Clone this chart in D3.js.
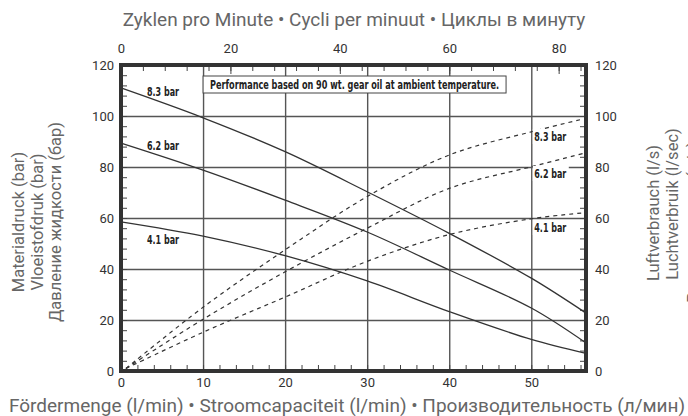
<!DOCTYPE html>
<html lang="de">
<head>
    <meta charset="utf-8">
    <title>Pump performance curve</title>
    <script src="https://d3js.org/d3.v7.min.js"></script>
    <style>
        body { margin: 0; background: #fff; }
        svg { display: block; }
        .tick-label { font-family: Roboto, "Liberation Sans", sans-serif; font-size: 13px; fill: #333; }
        .title { font-family: Roboto, "Liberation Sans", sans-serif; font-size: 16.5px; fill: #666; }
        .title.wide { font-size: 19px; }
        .curve { fill: none; stroke: #333; stroke-width: 1.3; }
        .curve.air { stroke-dasharray: 4,4; stroke-width: 1.2; }
        .grid line { stroke: #555; stroke-width: 1.4; }
        .minor line { stroke: #444; stroke-width: 1; }
        .bar-label { font-family: "Liberation Sans Narrow", "DejaVu Sans Condensed", sans-serif; font-weight: bold; font-size: 12px; fill: #222; }
    </style>
</head>
<body>
<div id="chart"></div>
<script>
    var w = 688;
    var h = 416;

    // flow (l/min) at which each curve was read
    var flowPoints = [0, 10, 20, 30, 40, 50, 56.67];
    var airFlowPoints = [0.6, 10, 20, 30, 40, 50, 56.67];

    // fluid pressure (bar), solid lines
    var fluid83 = [111, 99.3, 86, 70.3, 54, 36.4, 22.7];
    var fluid62 = [89.4, 78.8, 67, 54.5, 39.6, 24.7, 11];
    var fluid41 = [58.5, 52.9, 45.2, 35.3, 23.3, 12.4, 6.9];

    // air consumption (l/s), dashed lines
    var air83 = [1, 25, 47.5, 68.4, 84.7, 93.8, 99.1];
    var air62 = [1, 20.3, 38.9, 56, 71.6, 80.1, 85.6];
    var air41 = [1, 15.2, 29, 43, 53.5, 59.7, 62.1];

    var pressureNames = ["8.3 bar", "6.2 bar", "4.1 bar"];
    var flowTicks = [0, 10, 20, 30, 40, 50];
    var cycleTicks = [0, 20, 40, 60, 80];
    var valueTicks = [0, 20, 40, 60, 80, 100, 120];

    var topTitle = "Zyklen pro Minute • Cycli per minuut • Циклы в минуту";
    var bottomTitle = "Fördermenge (l/min) • Stroomcapaciteit (l/min) • Производительность (л/мин)";
    var leftTitle = ["Materialdruck (bar)", "Vloeistofdruk (bar)", "Давление жидкости (бар)"];
    var rightTitle = ["Luftverbrauch (l/s)", "Luchtverbruik (l/sec)", "Расход воздуха (л/с)"];
    var note = "Performance based on 90 wt. gear oil at ambient temperature.";

    var plotL = 121, plotR = 586, plotT = 65, plotB = 371;

    var svg = d3.select("#chart")
        .append("svg")
        .attr("width", w)
        .attr("height", h);

    var x = d3.scaleLinear().domain([0, 85 / 1.5]).range([plotL, plotR]);
    var xCycles = d3.scaleLinear().domain([0, 85]).range([plotL, plotR]);
    var y = d3.scaleLinear().domain([0, 120]).range([plotB, plotT]);
    var yAir = d3.scaleLinear().domain([0, 120]).range([plotB, plotT]);

    // grid
    svg.append("g")
        .attr("class", "grid")
        .attr("transform", `translate(0, ${plotB})`)
        .call(d3.axisBottom(x).tickValues([10, 20, 30, 40, 50]).tickSize(-(plotB - plotT)).tickFormat(""))
        .call(g => g.select(".domain").remove());

    svg.append("g")
        .attr("class", "grid")
        .attr("transform", `translate(${plotL}, 0)`)
        .call(d3.axisLeft(y).tickValues([20, 40, 60, 80, 100]).tickSize(-(plotR - plotL)).tickFormat(""))
        .call(g => g.select(".domain").remove());

    // minor ticks pointing inward
    function minor(g) {
        g.attr("class", "minor");
        g.select(".domain").remove();
    }

    svg.append("g")
        .attr("transform", `translate(0, ${plotB})`)
        .call(d3.axisBottom(x).tickValues(d3.range(0, 57, 2)).tickSize(-6).tickFormat(""))
        .call(minor);

    svg.append("g")
        .attr("transform", `translate(0, ${plotT})`)
        .call(d3.axisTop(xCycles).tickValues(d3.range(0, 86, 4)).tickSize(-6).tickFormat(""))
        .call(minor);

    svg.append("g")
        .attr("transform", `translate(0, ${plotT})`)
        .call(d3.axisTop(xCycles).tickValues(cycleTicks).tickSize(-9).tickFormat(""))
        .call(minor);

    svg.append("g")
        .attr("transform", `translate(${plotL}, 0)`)
        .call(d3.axisLeft(y).tickValues(d3.range(0, 121, 4)).tickSize(-6).tickFormat(""))
        .call(minor);

    svg.append("g")
        .attr("transform", `translate(${plotR}, 0)`)
        .call(d3.axisRight(yAir).tickValues(d3.range(0, 121, 4)).tickSize(-6).tickFormat(""))
        .call(minor);

    // tick labels
    function labels(g) {
        g.select(".domain").remove();
        g.selectAll(".tick line").remove();
        g.selectAll("text").attr("class", "tick-label").attr("fill", null);
        g.attr("font-size", null).attr("font-family", null);
    }

    svg.append("g")
        .attr("transform", `translate(0, ${plotB})`)
        .call(d3.axisBottom(x).tickValues(flowTicks).tickSize(0).tickPadding(7))
        .call(labels);

    svg.append("g")
        .attr("transform", `translate(0, ${plotT})`)
        .call(d3.axisTop(xCycles).tickValues(cycleTicks).tickSize(0).tickPadding(12))
        .call(labels);

    svg.append("g")
        .attr("transform", `translate(${plotL}, 0)`)
        .call(d3.axisLeft(y).tickValues(valueTicks).tickSize(0).tickPadding(7))
        .call(labels);

    svg.append("g")
        .attr("transform", `translate(${plotR}, 0)`)
        .call(d3.axisRight(yAir).tickValues(valueTicks).tickSize(0).tickPadding(9))
        .call(labels);

    // curves
    var fluidLine = d3.line()
        .x((d, i) => x(flowPoints[i]))
        .y(d => y(d))
        .curve(d3.curveCatmullRom.alpha(0.5));

    var airLine = d3.line()
        .x((d, i) => x(airFlowPoints[i]))
        .y(d => yAir(d))
        .curve(d3.curveCatmullRom.alpha(0.5));

    [fluid83, fluid62, fluid41].forEach(s => {
        svg.append("path").datum(s).attr("class", "curve").attr("d", fluidLine);
    });

    [air83, air62, air41].forEach(s => {
        svg.append("path").datum(s).attr("class", "curve air").attr("d", airLine);
    });

    // curve labels, left (fluid) and right (air)
    var fluidLabelY = [96, 150, 244];
    pressureNames.forEach((name, i) => {
        svg.append("text")
            .attr("class", "bar-label")
            .attr("x", 147)
            .attr("y", fluidLabelY[i])
            .attr("textLength", 32)
            .attr("lengthAdjust", "spacingAndGlyphs")
            .text(name);
    });

    var airLabelY = [141, 178, 232];
    pressureNames.forEach((name, i) => {
        var g = svg.append("g");
        g.append("rect")
            .attr("x", x(50) + 1.5)
            .attr("y", airLabelY[i] - 12)
            .attr("width", 36)
            .attr("height", 15)
            .attr("fill", "#fff");
        g.append("text")
            .attr("class", "bar-label")
            .attr("x", x(50) + 3)
            .attr("y", airLabelY[i])
            .attr("textLength", 32)
            .attr("lengthAdjust", "spacingAndGlyphs")
            .text(name);
    });

    // note box
    svg.append("rect")
        .attr("x", x(10))
        .attr("y", 76)
        .attr("width", 303)
        .attr("height", 17)
        .attr("fill", "#fff")
        .attr("stroke", "#444")
        .attr("stroke-width", 1);

    svg.append("text")
        .attr("class", "bar-label")
        .attr("x", x(10) + 7)
        .attr("y", 88.8)
        .style("font-size", "11.5px")
        .attr("textLength", 289)
        .attr("lengthAdjust", "spacingAndGlyphs")
        .text(note);

    // frame
    svg.append("rect")
        .attr("x", plotL)
        .attr("y", plotT)
        .attr("width", plotR - plotL)
        .attr("height", plotB - plotT)
        .attr("fill", "none")
        .attr("stroke", "#333")
        .attr("stroke-width", 4);

    // titles
    svg.append("text")
        .attr("class", "title wide")
        .attr("x", 354)
        .attr("y", 26)
        .attr("text-anchor", "middle")
        .text(topTitle);

    svg.append("text")
        .attr("class", "title wide")
        .attr("x", 347)
        .attr("y", 412)
        .attr("text-anchor", "middle")
        .text(bottomTitle);

    var leftX = [24, 43, 61];
    leftTitle.forEach((t, i) => {
        svg.append("text")
            .attr("class", "title")
            .attr("transform", `translate(${leftX[i]}, 222) rotate(-90)`)
            .attr("text-anchor", "middle")
            .text(t);
    });

    var rightX = [659, 678, 699];
    var rightY = [213, 204, 222];
    rightTitle.forEach((t, i) => {
        svg.append("text")
            .attr("class", "title")
            .attr("transform", `translate(${rightX[i]}, ${rightY[i]}) rotate(-90)`)
            .attr("text-anchor", "middle")
            .text(t);
    });
</script>
</body>
</html>
